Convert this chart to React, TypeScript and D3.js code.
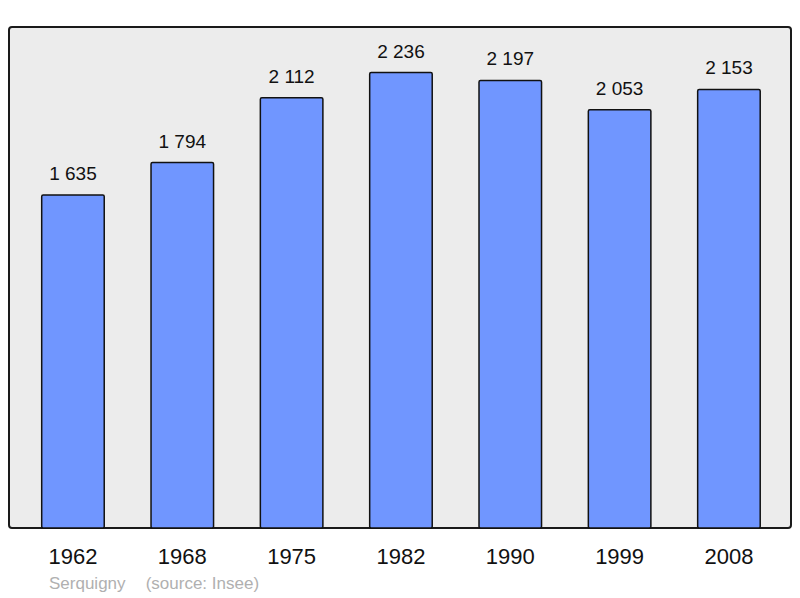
import React, { useEffect, useRef } from 'react';
import * as d3 from 'd3';

const years = ['1962', '1968', '1975', '1982', '1990', '1999', '2008'];
const population = [1635, 1794, 2112, 2236, 2197, 2053, 2153];
const commune = 'Serquigny';
const source = '(source: Insee)';

const fmt = (v: number) => d3.format(',')(v).replace(/,/g, ' ');

function App() {
  const ref = useRef<SVGSVGElement>(null);

  useEffect(() => {
    const width = 800, height = 598;
    const panel = { left: 9, top: 27, right: 791, bottom: 528 };
    const svg = d3.select(ref.current);
    svg.selectAll('*').remove();

    const x = d3.scaleBand<string>()
      .domain(years)
      .range([18.3, 783.6])
      .paddingInner(0.428)
      .paddingOuter(0.214);

    const y = d3.scaleLinear()
      .domain([0, d3.max(population)! * 1.1])
      .range([panel.bottom, panel.top]);

    svg.append('rect')
      .attr('x', panel.left)
      .attr('y', panel.top)
      .attr('width', panel.right - panel.left)
      .attr('height', panel.bottom - panel.top)
      .attr('rx', 3)
      .attr('fill', '#ececec')
      .attr('stroke', '#1a1a1a')
      .attr('stroke-width', 2);

    const rows = years.map((yr, i) => ({ yr, v: population[i] }));

    svg.append('g')
      .selectAll('rect')
      .data(rows)
      .join('rect')
      .attr('x', d => x(d.yr)!)
      .attr('y', d => y(d.v))
      .attr('width', x.bandwidth())
      .attr('height', d => panel.bottom - y(d.v))
      .attr('rx', 1.5)
      .attr('fill', '#7096ff')
      .attr('stroke', '#111')
      .attr('stroke-width', 1.5);

    svg.append('g')
      .attr('font-family', 'Liberation Sans, Arial, sans-serif')
      .attr('font-size', 19)
      .attr('text-anchor', 'middle')
      .attr('xml:space', 'preserve')
      .selectAll('text')
      .data(rows)
      .join('text')
      .attr('x', d => x(d.yr)! + x.bandwidth() / 2)
      .attr('y', d => y(d.v) - 15)
      .attr('fill', '#111')
      .text(d => fmt(d.v));

    svg.append('g')
      .attr('font-family', 'Liberation Sans, Arial, sans-serif')
      .attr('font-size', 22)
      .attr('text-anchor', 'middle')
      .selectAll('text')
      .data(years)
      .join('text')
      .attr('x', d => x(d)! + x.bandwidth() / 2)
      .attr('y', 564)
      .attr('fill', '#111')
      .text(d => d);

    const foot = svg.append('g')
      .attr('font-family', 'Liberation Sans, Arial, sans-serif')
      .attr('font-size', 17)
      .attr('fill', '#b0b0b0');
    foot.append('text').attr('x', 49).attr('y', 589).text(commune);
    foot.append('text').attr('x', 145.7).attr('y', 589).text(source);

    svg.attr('viewBox', `0 0 ${width} ${height}`);
  }, []);

  return (
    <svg ref={ref} width={800} height={598}
      style={{ position: 'absolute', left: 0, top: 0, display: 'block' }} />
  );
}

export default App;
